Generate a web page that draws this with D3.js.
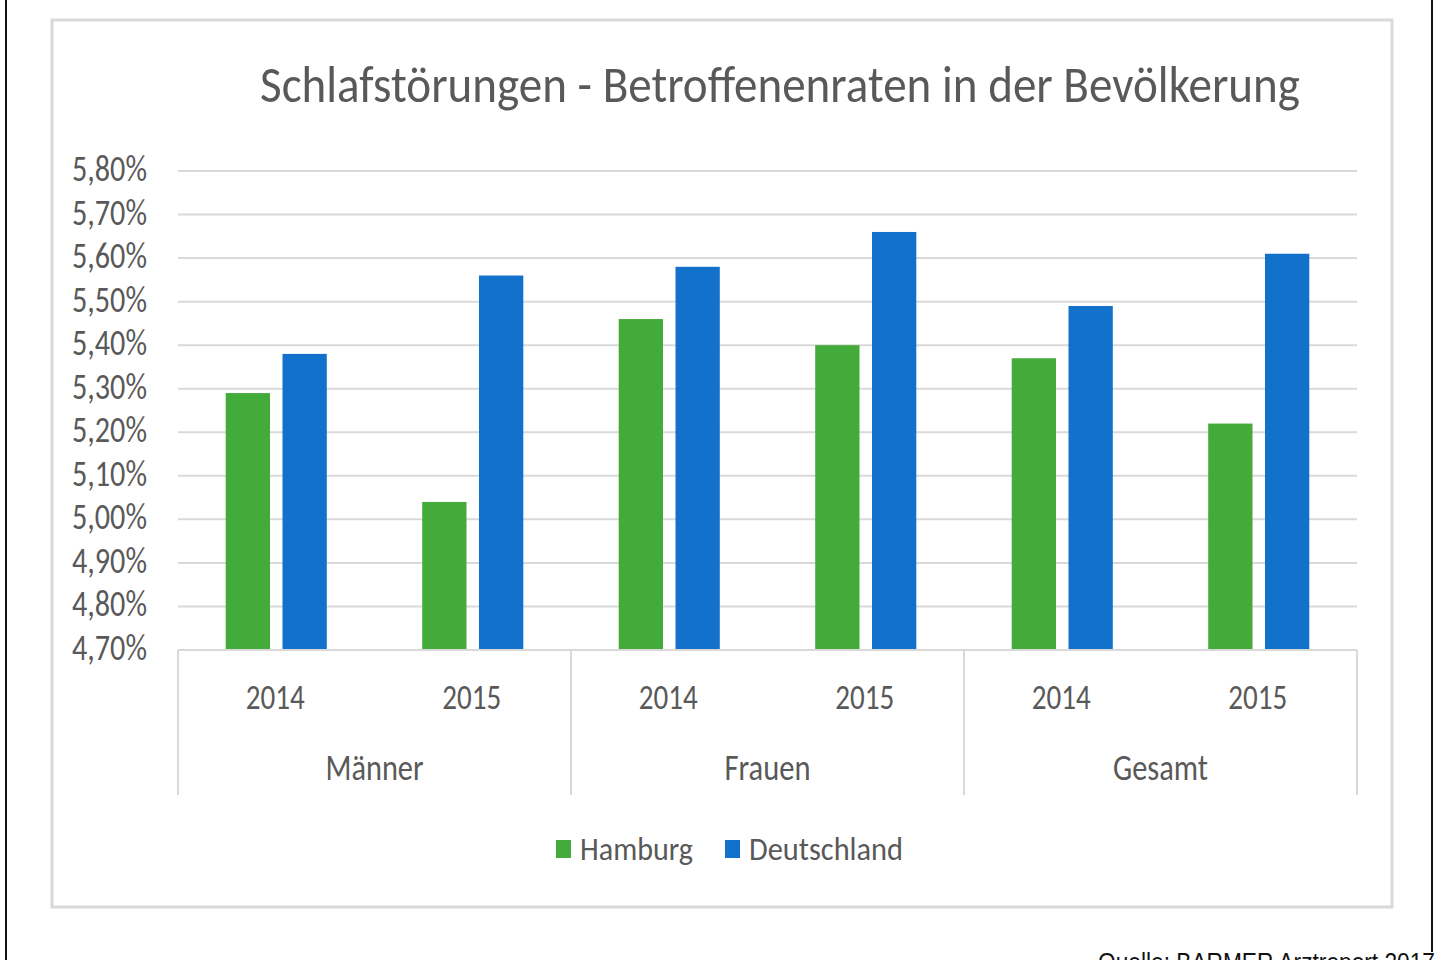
<!DOCTYPE html>
<html>
<head>
<meta charset="utf-8">
<script src="https://cdn.jsdelivr.net/npm/d3@7"></script>
<style>
  html, body { margin: 0; padding: 0; background: #fff; }
  svg text { font-family: "Liberation Sans Narrow", "Carlito", "Open Sans", sans-serif; }
</style>
</head>
<body>
<div id="chart"></div>
<script>
// Data
const groups = ["Männer", "Frauen", "Gesamt"];
const years = ["2014", "2015"];
const series = ["Hamburg", "Deutschland"];
const hamburg = [5.29, 5.04, 5.46, 5.40, 5.37, 5.22];
const deutschland = [5.38, 5.56, 5.58, 5.66, 5.49, 5.61];
const yTicks = [4.7, 4.8, 4.9, 5.0, 5.1, 5.2, 5.3, 5.4, 5.5, 5.6, 5.7, 5.8];
const colors = ["#43ab3a", "#1271ca"];

const W = 1440, H = 960;
const plot = { left: 178, right: 1357, top: 171, bottom: 650 };

// category rows: one per group/year
const cats = [];
groups.forEach(g => years.forEach(y => cats.push({ group: g, year: y, key: g + "|" + y })));
const rows = cats.map((c, i) => ({ ...c, values: [hamburg[i], deutschland[i]] }));

const svg = d3.select("#chart").append("svg")
  .attr("width", W)
  .attr("height", H);

// outer black page edges
svg.append("line").attr("x1", 6).attr("x2", 6).attr("y1", 0).attr("y2", H)
  .attr("stroke", "#111").attr("stroke-width", 2);
svg.append("line").attr("x1", 1432).attr("x2", 1432).attr("y1", 0).attr("y2", 952)
  .attr("stroke", "#111").attr("stroke-width", 2);

// chart frame
svg.append("rect")
  .attr("x", 52).attr("y", 20).attr("width", 1340).attr("height", 887)
  .attr("fill", "#fff").attr("stroke", "#d9d9d9").attr("stroke-width", 3);

// Title
svg.append("text")
  .attr("x", 780).attr("y", 102)
  .attr("text-anchor", "middle")
  .attr("font-size", 52)
  .attr("fill", "#595959")
  .attr("textLength", 1040)
  .attr("lengthAdjust", "spacingAndGlyphs")
  .text("Schlafstörungen - Betroffenenraten in der Bevölkerung");

// Scales
const y = d3.scaleLinear().domain([4.7, 5.8]).range([plot.bottom, plot.top]);
const x0 = d3.scaleBand().domain(cats.map(c => c.key)).range([plot.left, plot.right]);
const x1 = d3.scaleBand().domain(series).range([0, x0.bandwidth()])
  .paddingInner(0.22).paddingOuter(0.84);
const fmt = v => d3.format(".2f")(v).replace(".", ",") + "%";

// Gridlines
svg.append("g")
  .selectAll("line")
  .data(yTicks.slice(1))
  .join("line")
  .attr("x1", plot.left).attr("x2", plot.right)
  .attr("y1", d => y(d)).attr("y2", d => y(d))
  .attr("stroke", "#d9d9d9").attr("stroke-width", 2);

// Y axis labels
const yAxis = svg.append("g")
  .attr("transform", "translate(" + (plot.left - 31) + ",-2)")
  .call(d3.axisLeft(y).tickValues(yTicks).tickSize(0).tickPadding(0).tickFormat(fmt));
yAxis.select(".domain").remove();
yAxis.selectAll("text")
  .attr("font-size", 36)
  .attr("fill", "#595959")
  .attr("textLength", 75)
  .attr("lengthAdjust", "spacingAndGlyphs");

// Bars
svg.append("g")
  .selectAll("g")
  .data(rows)
  .join("g")
  .attr("transform", d => "translate(" + x0(d.key) + ",0)")
  .selectAll("rect")
  .data(d => d.values.map((v, i) => ({ s: series[i], v, i })))
  .join("rect")
  .attr("x", d => x1(d.s))
  .attr("width", x1.bandwidth())
  .attr("y", d => y(d.v))
  .attr("height", d => y(4.7) - y(d.v))
  .attr("fill", d => colors[d.i]);

// Category axis: baseline + group separators
const axisG = svg.append("g");
axisG.append("line")
  .attr("x1", plot.left).attr("x2", plot.right)
  .attr("y1", plot.bottom).attr("y2", plot.bottom)
  .attr("stroke", "#d9d9d9").attr("stroke-width", 2);

const groupEdges = [0, 2, 4].map(i => x0(cats[i].key)).concat([plot.right]);
axisG.selectAll(".sep")
  .data(groupEdges)
  .join("line")
  .attr("class", "sep")
  .attr("x1", d => d).attr("x2", d => d)
  .attr("y1", plot.bottom).attr("y2", 795)
  .attr("stroke", "#d9d9d9").attr("stroke-width", 2);

axisG.selectAll(".yr")
  .data(cats)
  .join("text")
  .attr("class", "yr")
  .attr("x", d => x0(d.key) + x0.bandwidth() / 2 - 1)
  .attr("y", 709)
  .attr("text-anchor", "middle")
  .attr("font-size", 35)
  .attr("fill", "#595959")
  .attr("textLength", 59)
  .attr("lengthAdjust", "spacingAndGlyphs")
  .text(d => d.year);

const groupW = [98, 86, 95];
axisG.selectAll(".grp")
  .data(groups)
  .join("text")
  .attr("class", "grp")
  .attr("x", (d, i) => (groupEdges[i] + groupEdges[i + 1]) / 2)
  .attr("y", 780)
  .attr("text-anchor", "middle")
  .attr("font-size", 36)
  .attr("fill", "#595959")
  .attr("textLength", (d, i) => groupW[i])
  .attr("lengthAdjust", "spacingAndGlyphs")
  .text(d => d);

// Legend
const legend = svg.append("g");
const legendX = [556, 725];
const legendW = [113, 154];
series.forEach((s, i) => {
  legend.append("rect")
    .attr("x", legendX[i]).attr("y", 840)
    .attr("width", 15).attr("height", 18)
    .attr("fill", colors[i]);
  legend.append("text")
    .attr("x", legendX[i] + 24).attr("y", 860)
    .attr("font-size", 32)
    .attr("fill", "#595959")
    .attr("textLength", legendW[i])
    .attr("lengthAdjust", "spacingAndGlyphs")
    .text(s);
});

// Source note (cut off at bottom edge, as in the original)
svg.append("text")
  .attr("x", 1098).attr("y", 971)
  .style("font-family", "'Liberation Sans', Arial, sans-serif")
  .attr("font-size", 25)
  .attr("fill", "#111")
  .attr("textLength", 337)
  .attr("lengthAdjust", "spacingAndGlyphs")
  .text("Quelle: BARMER Arztreport 2017");
</script>
</body>
</html>
